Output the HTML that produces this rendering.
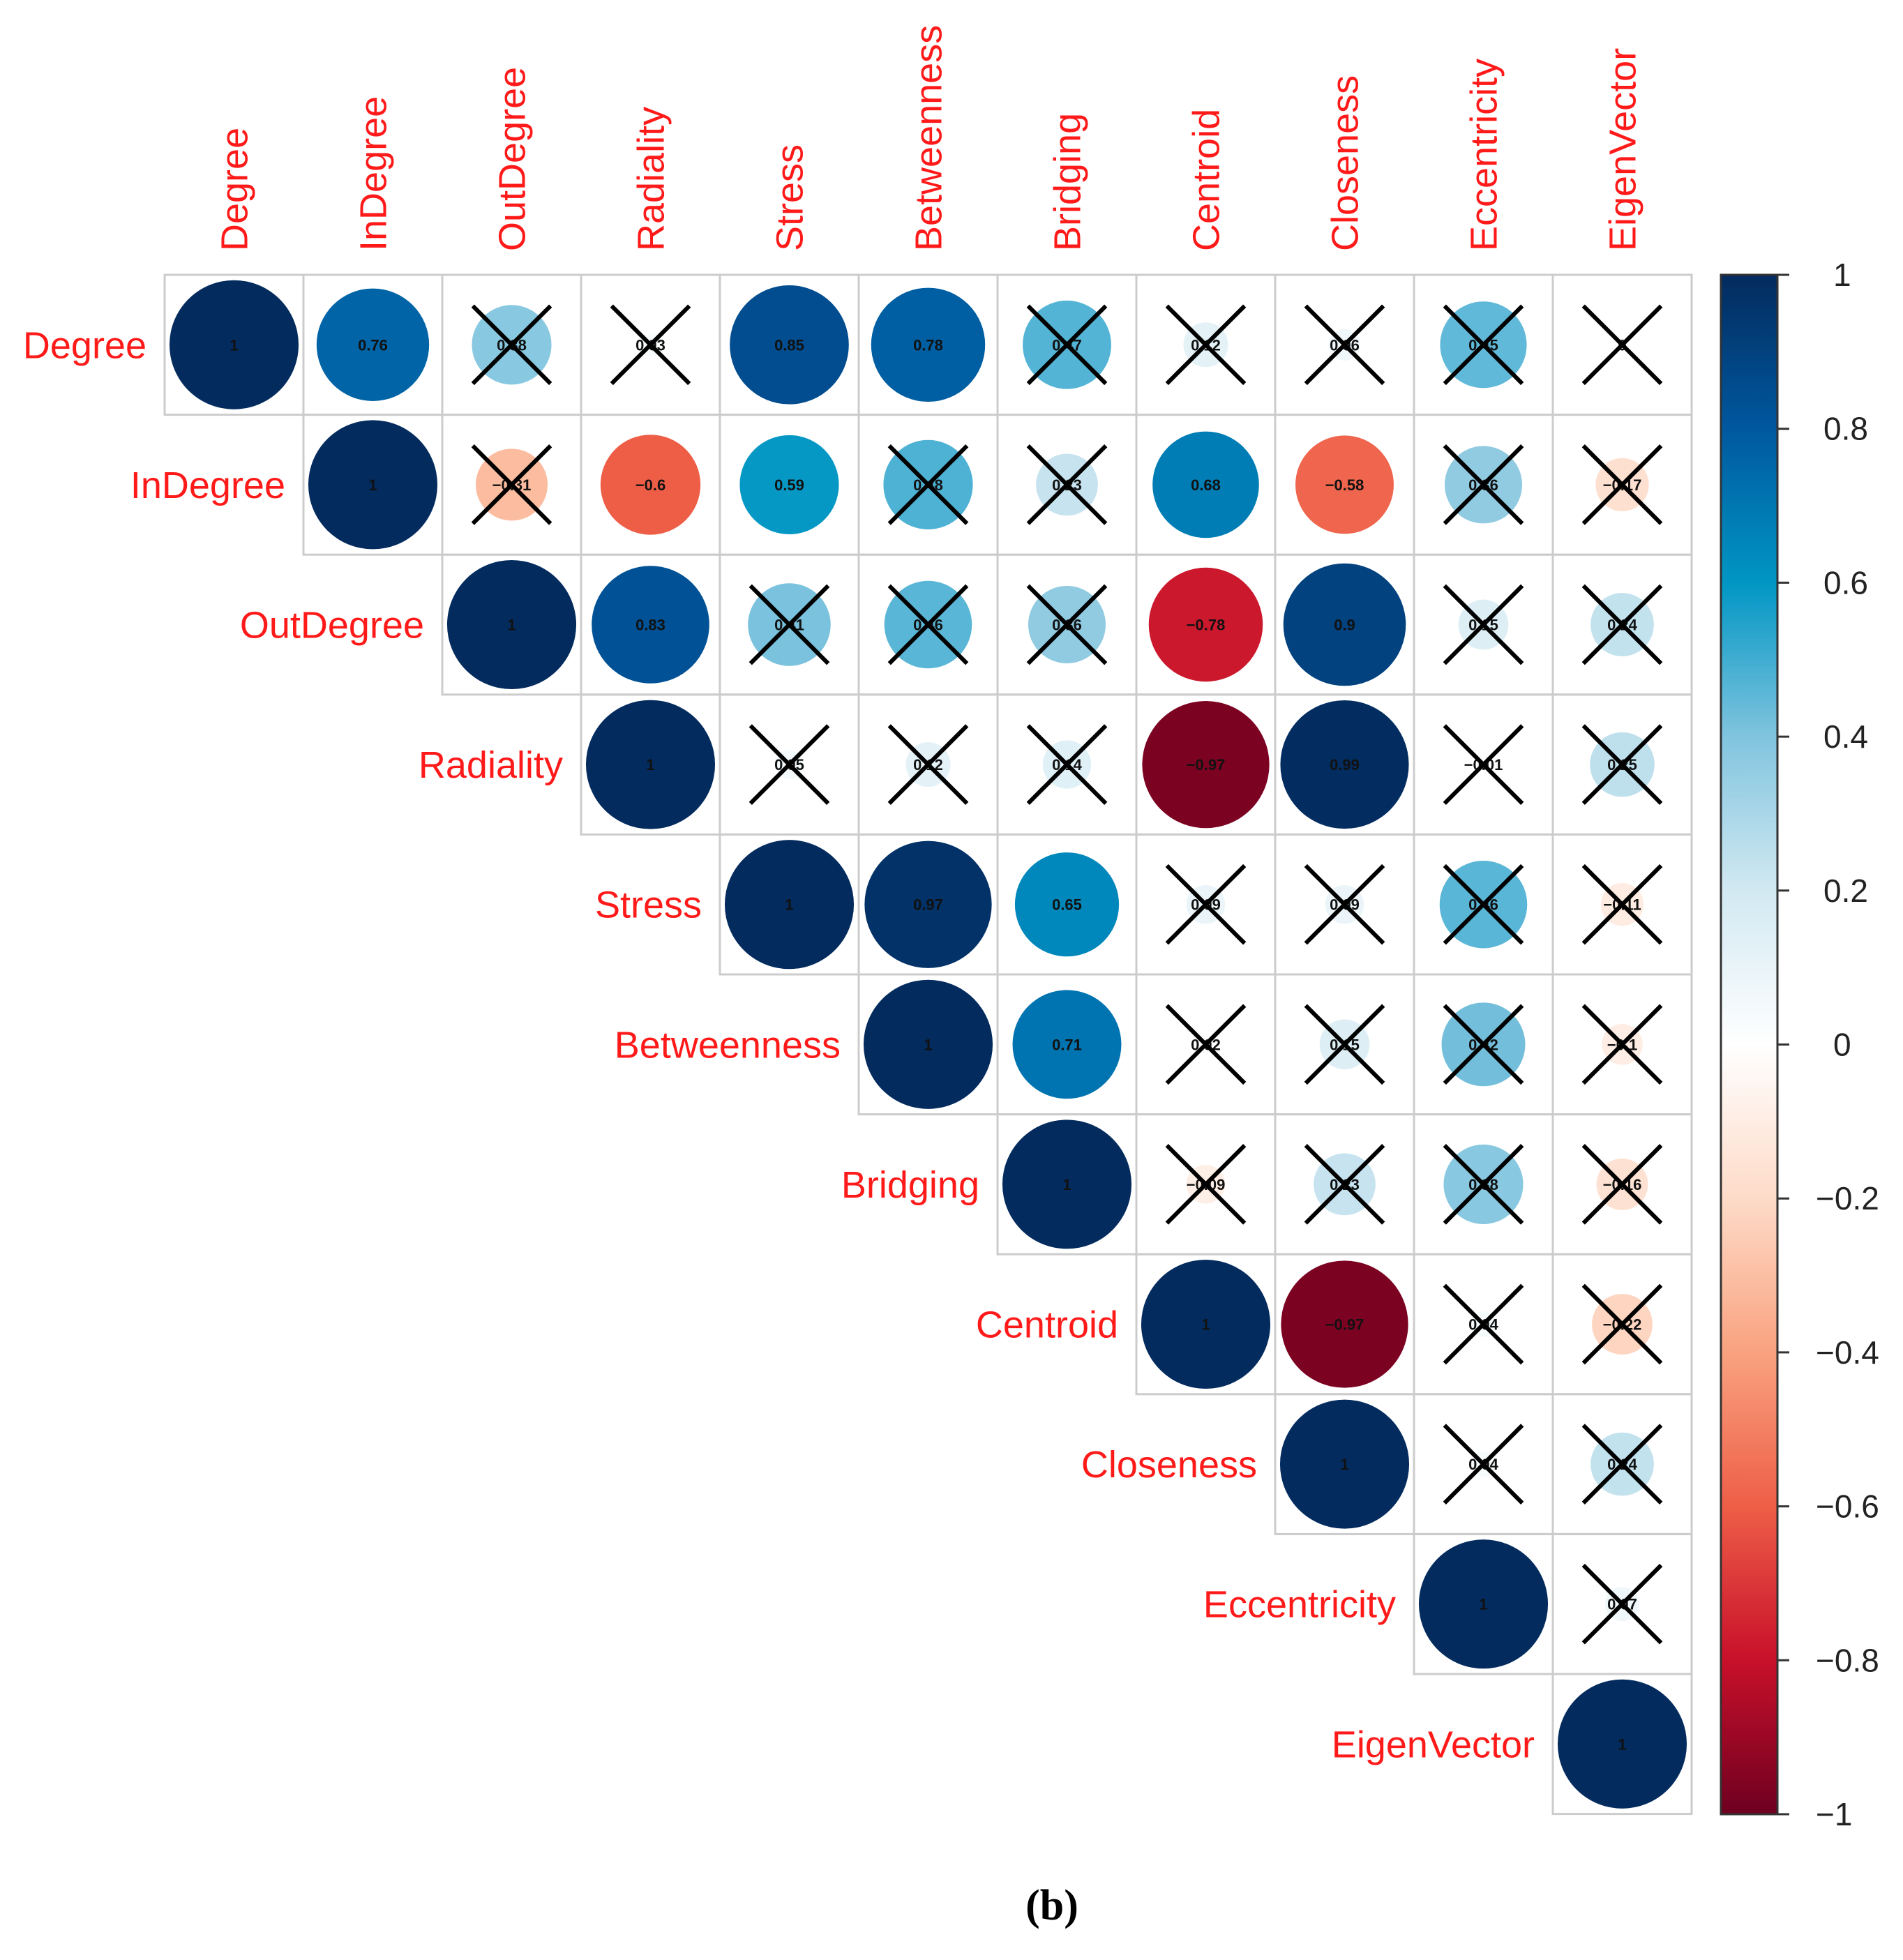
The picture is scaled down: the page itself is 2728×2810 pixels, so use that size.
<!DOCTYPE html>
<html><head><meta charset="utf-8">
<style>
html,body{margin:0;padding:0;background:#fff;}
svg{display:block;font-family:"Liberation Sans",Arial,sans-serif;}
</style></head>
<body>
<svg id="chart" width="2728" height="2810" viewBox="0 0 2728 2810" xmlns="http://www.w3.org/2000/svg">
<g id="grid"></g>
<g id="marks"></g>
<g id="labels"></g>
<g id="legend"></g>
<text x="1508" y="2752" text-anchor="middle" font-family="Liberation Serif, serif" font-weight="bold" font-size="62" fill="#000">(b)</text>
</svg>
<script>
const variables = ["Degree","InDegree","OutDegree","Radiality","Stress","Betweenness","Bridging","Centroid","Closeness","Eccentricity","EigenVector"];
// upper-triangle rows (starting at diagonal)
const row0 = [1,0.76,0.38,0.03,0.85,0.78,0.47,0.12,0.06,0.45,0.0];
const row1 = [1,-0.31,-0.6,0.59,0.48,0.23,0.68,-0.58,0.36,-0.17];
const row2 = [1,0.83,0.41,0.46,0.36,-0.78,0.9,0.15,0.24];
const row3 = [1,0.05,0.12,0.14,-0.97,0.99,-0.01,0.25];
const row4 = [1,0.97,0.65,0.09,0.09,0.46,-0.11];
const row5 = [1,0.71,0.02,0.15,0.42,-0.1];
const row6 = [1,-0.09,0.23,0.38,-0.16];
const row7 = [1,-0.97,0.04,-0.22];
const row8 = [1,0.04,0.24];
const row9 = [1,0.07];
const row10 = [1];
// significance (false => crossed out)
const sig0 = [1,1,0,0,1,1,0,0,0,0,0];
const sig1 = [1,0,1,1,0,0,1,1,0,0];
const sig2 = [1,1,0,0,0,1,1,0,0];
const sig3 = [1,0,0,0,1,1,0,0];
const sig4 = [1,1,1,0,0,0,0];
const sig5 = [1,1,0,0,0,0];
const sig6 = [1,0,0,0,0];
const sig7 = [1,1,0,0];
const sig8 = [1,0,0];
const sig9 = [1,0];
const sig10 = [1];
const colorTicks = [1,0.8,0.6,0.4,0.2,0,-0.2,-0.4,-0.6,-0.8,-1];

const rows=[row0,row1,row2,row3,row4,row5,row6,row7,row8,row9,row10];
const sigs=[sig0,sig1,sig2,sig3,sig4,sig5,sig6,sig7,sig8,sig9,sig10];
const NS="http://www.w3.org/2000/svg";
const X0=236,Y0=394,CW=199,CH=200.6;
const cx=j=>X0+CW*j+CW/2, cy=i=>Y0+CH*i+CH/2;
const pal=["#6E0020","#C8102A","#EE5E47","#F9A27F","#FDDBC8","#FFFFFF","#D2E9F2","#80C4DE","#0096C4","#00589F","#032B5E"];
function hex(h){return [1,3,5].map(k=>parseInt(h.substr(k,2),16));}
function col(v){let t=(v+1)/2*(pal.length-1);let i=Math.min(Math.floor(t),pal.length-2);let f=t-i;const a=hex(pal[i]),b=hex(pal[i+1]);return "rgb("+a.map((x,k)=>Math.round(x+(b[k]-x)*f)).join(",")+")";}
function mk(tag,attrs,parent){const e=document.createElementNS(NS,tag);for(const k in attrs)e.setAttribute(k,attrs[k]);parent.appendChild(e);return e;}
const grid=document.getElementById('grid'),marks=document.getElementById('marks'),labels=document.getElementById('labels'),legend=document.getElementById('legend');
function fmt(v){if(v===1)return "1";let s=(Math.round(v*100)/100).toString();return s.replace("-","\u2212");}
rows.forEach((r,i)=>{
  r.forEach((v,k)=>{
    const j=i+k;
    const rc=mk('rect',{x:X0+CW*j,y:Y0+CH*i,width:CW,height:CH,fill:'none',stroke:'#cccccc','stroke-width':3},grid);
    
    
    const rad=0.465*CW*Math.sqrt(Math.abs(v));
    const c=mk('circle',{cx:cx(j),cy:cy(i),r:rad,fill:col(v)},marks);
    
    
    const t=mk('text',{x:cx(j),y:cy(i)+8,'text-anchor':'middle','font-size':22,'font-weight':'bold',fill:'#111'},marks);
    t.textContent=fmt(v);
    
    
    if(!sigs[i][k]){
      const d=0.28*CW;
      const g=mk('path',{d:`M${cx(j)-d},${cy(i)-d}L${cx(j)+d},${cy(i)+d}M${cx(j)+d},${cy(i)-d}L${cx(j)-d},${cy(i)+d}`,stroke:'#000','stroke-width':6,fill:'none'},marks);
      
      
    }
  });
  const rl=mk('text',{x:X0+CW*i-26,y:cy(i)+19,'text-anchor':'end','font-size':54,fill:'#FF1A1A'},labels);
  rl.textContent=variables[i];
  
  
  const cl=mk('text',{x:0,y:0,'text-anchor':'start','font-size':54,fill:'#FF1A1A',transform:`translate(${cx(i)+19},360) rotate(-90)`},labels);
  cl.textContent=variables[i];
  
  
});
// colorbar
const BX=2467,BW=81,BT=394,BB=2601;
const defs=mk('defs',{},legend);
const lg=mk('linearGradient',{id:'cg',x1:0,y1:1,x2:0,y2:0},defs);
pal.forEach((p,k)=>mk('stop',{offset:(k/(pal.length-1)),'stop-color':p},lg));
const bar=mk('rect',{x:BX,y:BT,width:BW,height:BB-BT,fill:'url(#cg)',stroke:'#333','stroke-width':3},legend);


const yv=v=>BB-(v+1)/2*(BB-BT);
colorTicks.forEach(v=>{
  const tk=mk('line',{x1:BX+BW,x2:BX+BW+17,y1:yv(v),y2:yv(v),stroke:'#333','stroke-width':3},legend);
  
  
  const tl=mk('text',{x:v<0?2603:(v===0||v===1?2628:2614),y:yv(v)+16,'font-size':46,fill:'#222'},legend);
  tl.textContent=(v<0?"\u2212":"")+Math.abs(v);
  
  
});
</script>
</body></html>
